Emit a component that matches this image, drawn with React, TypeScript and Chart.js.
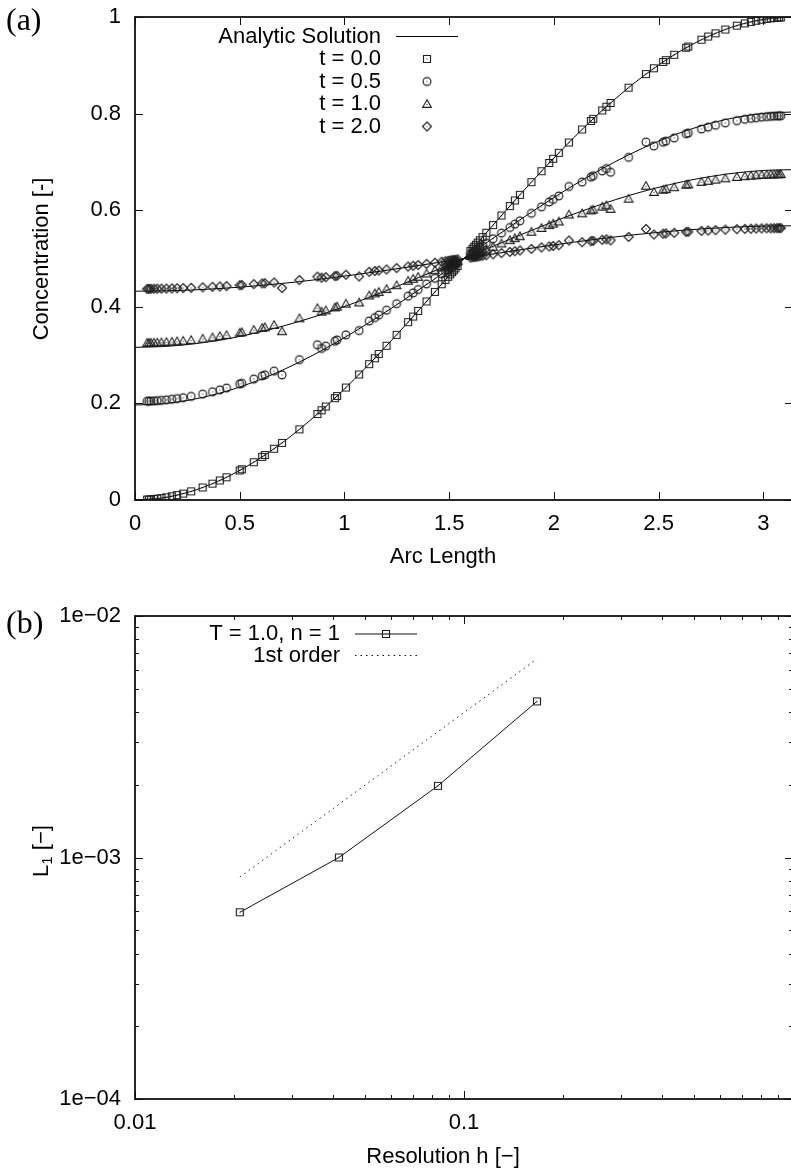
import React, { useEffect, useRef } from "react";
import { Chart, registerables } from "chart.js";

Chart.register(...registerables);

const SANS = '"Liberation Sans", Arial, Helvetica, sans-serif';
const SERIF = '"Liberation Serif", "Times New Roman", serif';

// ---------- (a) concentration along the arc ----------
// arc-length position of every mesh node
const arcS = [
  0.058, 0.066, 0.076, 0.09, 0.106, 0.126, 0.15, 0.176, 0.201, 0.23, 0.268, 0.323,
  0.37, 0.405, 0.437, 0.5, 0.51, 0.567, 0.607, 0.62, 0.664, 0.702, 0.785, 0.871,
  0.891, 0.911, 0.954, 0.965, 1.007, 1.07, 1.118, 1.145, 1.164, 1.201, 1.249, 1.304,
  1.328, 1.352, 1.392, 1.432, 1.464, 1.482, 1.495, 1.505, 1.514, 1.522, 1.53, 1.54,
  1.6016, 1.6116, 1.6196, 1.6276, 1.6366, 1.6466, 1.6596, 1.6776, 1.7096, 1.7496, 1.7896, 1.8136,
  1.8376, 1.8926, 1.9406, 1.9776, 1.9966, 2.0236, 2.0716, 2.1346, 2.1766, 2.1876, 2.2306, 2.2506,
  2.2706, 2.3566, 2.4396, 2.4776, 2.5216, 2.5346, 2.5746, 2.6316, 2.6416, 2.7046, 2.7366, 2.7716,
  2.8186, 2.8736, 2.9116, 2.9406, 2.9656, 2.9916, 3.0156, 3.0356, 3.0516, 3.0656, 3.0756, 3.0836,
];

// computed concentration at the nodes
const concT00 = [
  0.0008, 0.0011, 0.0014, 0.002, 0.0028, 0.004, 0.0056, 0.0077, 0.0101, 0.0132, 0.0179, 0.0259,
  0.0338, 0.0405, 0.047, 0.0612, 0.0636, 0.0782, 0.0893, 0.0931, 0.1062, 0.1182, 0.1463, 0.178,
  0.1857, 0.1935, 0.2108, 0.2153, 0.2328, 0.2599, 0.2813, 0.2935, 0.3022, 0.3193, 0.3419, 0.3682,
  0.3798, 0.3915, 0.4111, 0.4308, 0.4467, 0.4557, 0.4621, 0.4671, 0.4716, 0.4756, 0.4796, 0.4846,
  0.5154, 0.5204, 0.5244, 0.5284, 0.5329, 0.5379, 0.5443, 0.5533, 0.5692, 0.5889, 0.6085, 0.6202,
  0.6318, 0.6581, 0.6807, 0.6978, 0.7065, 0.7187, 0.7401, 0.7672, 0.7847, 0.7892, 0.8065, 0.8143,
  0.822, 0.8537, 0.8818, 0.8938, 0.9069, 0.9107, 0.9218, 0.9364, 0.9388, 0.953, 0.9595, 0.9662,
  0.9741, 0.9821, 0.9868, 0.9899, 0.9923, 0.9944, 0.996, 0.9972, 0.998, 0.9986, 0.9989, 0.9992,
];
const concT05 = [
  0.2045, 0.2046, 0.2049, 0.2052, 0.2057, 0.2063, 0.2073, 0.2086, 0.21, 0.2118, 0.2146, 0.2193,
  0.224, 0.2279, 0.2318, 0.2402, 0.2417, 0.2503, 0.2569, 0.2591, 0.2669, 0.259, 0.2906, 0.3214,
  0.3139, 0.3186, 0.3288, 0.3315, 0.3418, 0.3509, 0.3705, 0.3777, 0.3829, 0.393, 0.4064, 0.422,
  0.4288, 0.4358, 0.4474, 0.459, 0.4684, 0.4738, 0.4776, 0.4805, 0.4832, 0.4856, 0.4879, 0.4909,
  0.5091, 0.5121, 0.5144, 0.5168, 0.5195, 0.5224, 0.5262, 0.5316, 0.541, 0.5526, 0.5642, 0.5712,
  0.578, 0.5936, 0.607, 0.6171, 0.6223, 0.6295, 0.6491, 0.6582, 0.6685, 0.6712, 0.6814, 0.6861,
  0.6786, 0.7094, 0.741, 0.7331, 0.7409, 0.7431, 0.7497, 0.7583, 0.7598, 0.7682, 0.7721, 0.776,
  0.7807, 0.7854, 0.7882, 0.79, 0.7914, 0.7927, 0.7937, 0.7943, 0.7948, 0.7951, 0.7954, 0.7955,
];
const concT10 = [
  0.3253, 0.3254, 0.3255, 0.3257, 0.326, 0.3264, 0.327, 0.3277, 0.3285, 0.3296, 0.3312, 0.3341,
  0.3368, 0.3392, 0.3414, 0.3464, 0.3473, 0.3524, 0.3563, 0.3576, 0.3622, 0.3494, 0.3762, 0.3973,
  0.39, 0.3927, 0.3988, 0.4004, 0.4065, 0.409, 0.4234, 0.4277, 0.4308, 0.4368, 0.4447, 0.4539,
  0.4579, 0.462, 0.4689, 0.4758, 0.4813, 0.4845, 0.4867, 0.4885, 0.4901, 0.4915, 0.4929, 0.4946,
  0.5054, 0.5071, 0.5085, 0.5099, 0.5115, 0.5133, 0.5155, 0.5187, 0.5242, 0.5311, 0.538, 0.5421,
  0.5461, 0.5553, 0.5632, 0.5692, 0.5723, 0.5766, 0.591, 0.5935, 0.5996, 0.6012, 0.6073, 0.61,
  0.6027, 0.6238, 0.6506, 0.6378, 0.6424, 0.6437, 0.6476, 0.6527, 0.6536, 0.6586, 0.6608, 0.6632,
  0.6659, 0.6688, 0.6704, 0.6715, 0.6723, 0.673, 0.6736, 0.674, 0.6743, 0.6745, 0.6746, 0.6747,
];
const concT20 = [
  0.4371, 0.4371, 0.4372, 0.4373, 0.4374, 0.4375, 0.4377, 0.438, 0.4383, 0.4387, 0.4393, 0.4403,
  0.4413, 0.4421, 0.4429, 0.4447, 0.445, 0.4469, 0.4483, 0.4487, 0.4504, 0.4389, 0.4554, 0.4624,
  0.4604, 0.4614, 0.4636, 0.4641, 0.4663, 0.4628, 0.4724, 0.474, 0.4751, 0.4772, 0.4801, 0.4834,
  0.4849, 0.4863, 0.4888, 0.4913, 0.4933, 0.4944, 0.4952, 0.4959, 0.4964, 0.4969, 0.4974, 0.4981,
  0.5019, 0.5026, 0.5031, 0.5036, 0.5041, 0.5048, 0.5056, 0.5067, 0.5087, 0.5112, 0.5137, 0.5151,
  0.5166, 0.5199, 0.5228, 0.5249, 0.526, 0.5276, 0.5372, 0.5337, 0.5359, 0.5364, 0.5386, 0.5396,
  0.5376, 0.5446, 0.5611, 0.5496, 0.5513, 0.5517, 0.5531, 0.555, 0.5553, 0.5571, 0.5579, 0.5587,
  0.5597, 0.5607, 0.5613, 0.5617, 0.562, 0.5623, 0.5625, 0.5626, 0.5627, 0.5628, 0.5629, 0.5629,
];

// analytic solution sampled along the arc
const exactS = [
  0, 0.1309, 0.2618, 0.3927, 0.5236, 0.6545, 0.7854, 0.9163, 1.0472, 1.1781, 1.309, 1.4399, 1.5708,
  1.7017, 1.8326, 1.9635, 2.0944, 2.2253, 2.3562, 2.4871, 2.618, 2.7489, 2.8798, 3.0107, 3.1416,
];
const exactT00 = [
  0, 0.0043, 0.017, 0.0381, 0.067, 0.1033, 0.1464, 0.1956, 0.25, 0.3087, 0.3706, 0.4347, 0.5,
  0.5653, 0.6294, 0.6913, 0.75, 0.8044, 0.8536, 0.8967, 0.933, 0.9619, 0.983, 0.9957, 1,
];
const exactT05 = [
  0.1967, 0.1993, 0.2071, 0.2198, 0.2374, 0.2594, 0.2856, 0.3154, 0.3484, 0.3839, 0.4215, 0.4604, 0.5,
  0.5396, 0.5785, 0.6161, 0.6516, 0.6846, 0.7144, 0.7406, 0.7626, 0.7802, 0.7929, 0.8007, 0.8033,
];
const exactT10 = [
  0.3161, 0.3176, 0.3223, 0.3301, 0.3407, 0.3541, 0.3699, 0.388, 0.408, 0.4296, 0.4524, 0.476, 0.5,
  0.524, 0.5476, 0.5704, 0.592, 0.612, 0.6301, 0.6459, 0.6593, 0.6699, 0.6777, 0.6824, 0.6839,
];
const exactT20 = [
  0.4323, 0.4329, 0.4346, 0.4375, 0.4414, 0.4463, 0.4521, 0.4588, 0.4662, 0.4741, 0.4825, 0.4912, 0.5,
  0.5088, 0.5175, 0.5259, 0.5338, 0.5412, 0.5479, 0.5537, 0.5586, 0.5625, 0.5654, 0.5671, 0.5677,
];

const arcTicks = [0, 0.5, 1, 1.5, 2, 2.5, 3];
const concTicks = [0, 0.2, 0.4, 0.6, 0.8, 1];
const legendLabelsA = ["Analytic Solution", "t = 0.0", "t = 0.5", "t = 1.0", "t = 2.0"];

// ---------- (b) convergence of the L1 error ----------
const resolutionH = [0.02083, 0.04167, 0.08333, 0.16667];
const errorL1 = [5.93e-4, 1.0e-3, 1.98e-3, 4.43e-3];
const firstOrderH = [0.02083, 0.16667];
const firstOrderL1 = [8.3e-4, 6.64e-3];
const hTicks = [0.01, 0.1];
const hTickLabels = ["0.01", "0.1"];
const errTicks = [1e-4, 1e-3, 1e-2];
const errTickLabels = ["1e\u221204", "1e\u221203", "1e\u221202"];
const legendLabelsB = ["T = 1.0, n = 1", "1st order"];

const toXY = (xs: number[], ys: number[]) => xs.map((x, i) => ({ x, y: ys[i] }));

type MarkerKind = "square" | "circle" | "triangle" | "diamond";

// open gnuplot-style point symbols with a centre dot
function makeMarker(kind: MarkerKind): HTMLCanvasElement {
  const c = document.createElement("canvas");
  c.width = 12;
  c.height = 12;
  const g = c.getContext("2d")!;
  g.strokeStyle = "#1e1e1e";
  g.fillStyle = "#1e1e1e";
  g.lineWidth = 1.15;
  g.beginPath();
  if (kind === "square") g.rect(2.5, 2.5, 7, 7);
  else if (kind === "circle") g.arc(6, 6, 3.9, 0, Math.PI * 2);
  else if (kind === "triangle") {
    g.moveTo(6, 1.8);
    g.lineTo(10.3, 9.3);
    g.lineTo(1.7, 9.3);
    g.closePath();
  } else {
    g.moveTo(6, 1.5);
    g.lineTo(10.5, 6);
    g.lineTo(6, 10.5);
    g.lineTo(1.5, 6);
    g.closePath();
  }
  g.stroke();
  g.fillRect(5.5, kind === "triangle" ? 6 : 5.5, 1, 1);
  return c;
}

// box with inward tick marks on all four sides
function framePlugin(xMajor: number[], yMajor: number[], xMinor: number[], yMinor: number[]) {
  return {
    id: "frame",
    afterDatasetsDraw(chart: any) {
      const { ctx, chartArea: a } = chart;
      const sx = chart.scales.x;
      const sy = chart.scales.y;
      ctx.save();
      ctx.strokeStyle = "#111";
      ctx.lineWidth = 1;
      ctx.beginPath();
      const vt = (v: number, len: number) => {
        const p = Math.round(sx.getPixelForValue(v)) + 0.5;
        ctx.moveTo(p, a.bottom);
        ctx.lineTo(p, a.bottom - len);
        ctx.moveTo(p, a.top);
        ctx.lineTo(p, a.top + len);
      };
      const ht = (v: number, len: number) => {
        const p = Math.round(sy.getPixelForValue(v)) + 0.5;
        ctx.moveTo(a.left, p);
        ctx.lineTo(a.left + len, p);
        ctx.moveTo(a.right, p);
        ctx.lineTo(a.right - len, p);
      };
      xMajor.forEach((v) => vt(v, 8));
      xMinor.forEach((v) => vt(v, 4));
      yMajor.forEach((v) => ht(v, 8));
      yMinor.forEach((v) => ht(v, 4));
      ctx.stroke();
      ctx.lineWidth = 1.8;
      ctx.strokeRect(a.left, a.top, a.right - a.left, a.bottom - a.top);
      ctx.restore();
    },
  };
}

function drawRotated(ctx: CanvasRenderingContext2D, cx: number, cy: number, draw: () => void) {
  ctx.save();
  ctx.translate(cx, cy);
  ctx.rotate(-Math.PI / 2);
  draw();
  ctx.restore();
}

const fixedAxis = (size: number, horizontal: boolean) => (s: any) => {
  if (horizontal) s.height = size;
  else s.width = size;
  s.paddingTop = 0;
  s.paddingBottom = 0;
  s.paddingLeft = 0;
  s.paddingRight = 0;
};

const tickFont = { family: SANS, size: 22 };

export default function App() {
  const refA = useRef<HTMLCanvasElement>(null);
  const refB = useRef<HTMLCanvasElement>(null);

  useEffect(() => {
    const sq = makeMarker("square");
    const ci = makeMarker("circle");
    const tr = makeMarker("triangle");
    const di = makeMarker("diamond");

    const markerSet = (label: string, ys: number[], img: HTMLCanvasElement) => ({
      label,
      data: toXY(arcS, ys),
      showLine: false,
      pointStyle: img,
      pointRadius: 4,
      pointHoverRadius: 4,
      order: 1,
    });
    const exactSet = (ys: number[]) => ({
      label: "Analytic Solution",
      data: toXY(exactS, ys),
      showLine: true,
      borderColor: "#000",
      borderWidth: 1,
      pointRadius: 0,
      cubicInterpolationMode: "monotone",
      order: 2,
    });

    const textA = {
      id: "textA",
      afterDraw(chart: any) {
        const ctx: CanvasRenderingContext2D = chart.ctx;
        ctx.save();
        ctx.fillStyle = "#000";
        ctx.font = `22px ${SANS}`;
        ctx.textBaseline = "middle";
        ctx.textAlign = "center";
        ctx.fillText("Arc Length", 443, 557);
        drawRotated(ctx, 42, 259, () => ctx.fillText("Concentration [-]", 0, 0));
        // legend
        const rows = [36.5, 59, 81.5, 104, 126.5];
        const marks = [null, sq, ci, tr, di];
        ctx.textAlign = "right";
        legendLabelsA.forEach((t, i) => {
          ctx.fillText(t, 381, rows[i]);
          const m = marks[i];
          if (m) ctx.drawImage(m, 427 - 6, rows[i] - 6);
        });
        ctx.strokeStyle = "#000";
        ctx.lineWidth = 1;
        ctx.beginPath();
        ctx.moveTo(396, 36.5);
        ctx.lineTo(458, 36.5);
        ctx.stroke();
        ctx.font = `32px ${SERIF}`;
        ctx.textAlign = "left";
        ctx.fillText("(a)", 6, 22);
        ctx.restore();
      },
    };

    const chartA = new Chart(refA.current!, {
      type: "scatter",
      data: {
        datasets: [
          markerSet("t = 0.0", concT00, sq),
          markerSet("t = 0.5", concT05, ci),
          markerSet("t = 1.0", concT10, tr),
          markerSet("t = 2.0", concT20, di),
          exactSet(exactT00),
          exactSet(exactT05),
          exactSet(exactT10),
          exactSet(exactT20),
        ] as any,
      },
      options: {
        animation: false,
        responsive: false,
        devicePixelRatio: 1,
        events: [],
        layout: { padding: { top: 17, left: 0, right: 7, bottom: 0 } },
        plugins: { legend: { display: false }, tooltip: { enabled: false } },
        scales: {
          x: {
            type: "linear",
            min: 0,
            max: Math.PI,
            afterBuildTicks: (s: any) => {
              s.ticks = arcTicks.map((v) => ({ value: v }));
            },
            afterFit: fixedAxis(90, true),
            grid: { display: false, drawTicks: false },
            border: { display: false },
            ticks: {
              padding: 11,
              font: tickFont,
              color: "#000",
              maxRotation: 0,
              autoSkip: false,
              callback: (v: any) => String(v),
            },
          },
          y: {
            type: "linear",
            min: 0,
            max: 1,
            afterBuildTicks: (s: any) => {
              s.ticks = concTicks.map((v) => ({ value: v }));
            },
            afterFit: fixedAxis(135, false),
            grid: { display: false, drawTicks: false },
            border: { display: false },
            ticks: {
              padding: 14,
              font: tickFont,
              color: "#000",
              autoSkip: false,
              callback: (v: any) => String(v),
            },
          },
        },
      } as any,
      plugins: [framePlugin(arcTicks, concTicks, [], []), textA],
    });

    // minor tick positions of the log axes
    const minorH: number[] = [];
    [0.01, 0.1].forEach((d) => {
      for (let m = 2; m <= 9; m++) minorH.push(d * m);
    });
    const minorE: number[] = [];
    [1e-4, 1e-3].forEach((d) => {
      for (let m = 2; m <= 9; m++) minorE.push(d * m);
    });

    const textB = {
      id: "textB",
      afterDraw(chart: any) {
        const ctx: CanvasRenderingContext2D = chart.ctx;
        ctx.save();
        ctx.fillStyle = "#000";
        ctx.font = `22px ${SANS}`;
        ctx.textBaseline = "middle";
        ctx.textAlign = "center";
        ctx.fillText("Resolution h [\u2212]", 443, 567);
        drawRotated(ctx, 42, 261, () => {
          const big = `22px ${SANS}`;
          const small = `15px ${SANS}`;
          ctx.textAlign = "left";
          ctx.font = big;
          const wL = ctx.measureText("L").width;
          const wRest = ctx.measureText(" [\u2212]").width;
          ctx.font = small;
          const w1 = ctx.measureText("1").width;
          let x = -(wL + w1 + wRest) / 2;
          ctx.font = big;
          ctx.fillText("L", x, 0);
          x += wL;
          ctx.font = small;
          ctx.fillText("1", x, 6);
          x += w1;
          ctx.font = big;
          ctx.fillText(" [\u2212]", x, 0);
        });
        // legend
        const rows = [44, 65.5];
        ctx.textAlign = "right";
        legendLabelsB.forEach((t, i) => ctx.fillText(t, 340, rows[i]));
        ctx.strokeStyle = "#111";
        ctx.lineWidth = 1;
        ctx.beginPath();
        ctx.moveTo(355, rows[0]);
        ctx.lineTo(417, rows[0]);
        ctx.stroke();
        ctx.drawImage(sq, 386 - 6, rows[0] - 6);
        ctx.setLineDash([1.5, 4]);
        ctx.beginPath();
        ctx.moveTo(355, rows[1]);
        ctx.lineTo(417, rows[1]);
        ctx.stroke();
        ctx.setLineDash([]);
        ctx.font = `32px ${SERIF}`;
        ctx.textAlign = "left";
        ctx.fillText("(b)", 6, 35);
        ctx.restore();
      },
    };

    const chartB = new Chart(refB.current!, {
      type: "scatter",
      data: {
        datasets: [
          {
            label: legendLabelsB[0],
            data: toXY(resolutionH, errorL1),
            showLine: true,
            borderColor: "#111",
            borderWidth: 1,
            pointStyle: sq,
            pointRadius: 4,
            pointHoverRadius: 4,
          },
          {
            label: legendLabelsB[1],
            data: toXY(firstOrderH, firstOrderL1),
            showLine: true,
            borderColor: "#222",
            borderWidth: 1,
            borderDash: [1.5, 4],
            pointRadius: 0,
          },
        ] as any,
      },
      options: {
        animation: false,
        responsive: false,
        devicePixelRatio: 1,
        events: [],
        layout: { padding: { top: 26, left: 0, right: 7, bottom: 0 } },
        plugins: { legend: { display: false }, tooltip: { enabled: false } },
        scales: {
          x: {
            type: "logarithmic",
            min: 0.01,
            max: 1,
            afterBuildTicks: (s: any) => {
              s.ticks = hTicks.map((v) => ({ value: v }));
            },
            afterFit: fixedAxis(71, true),
            grid: { display: false, drawTicks: false },
            border: { display: false },
            ticks: {
              padding: 11,
              font: tickFont,
              color: "#000",
              maxRotation: 0,
              autoSkip: false,
              callback: (_v: any, i: number) => hTickLabels[i],
            },
          },
          y: {
            type: "logarithmic",
            min: 1e-4,
            max: 1e-2,
            afterBuildTicks: (s: any) => {
              s.ticks = errTicks.map((v) => ({ value: v }));
            },
            afterFit: fixedAxis(135, false),
            grid: { display: false, drawTicks: false },
            border: { display: false },
            ticks: {
              padding: 14,
              font: tickFont,
              color: "#000",
              autoSkip: false,
              callback: (_v: any, i: number) => errTickLabels[i],
            },
          },
        },
      } as any,
      plugins: [framePlugin(hTicks, errTicks, minorH, minorE), textB],
    });

    return () => {
      chartA.destroy();
      chartB.destroy();
    };
  }, []);

  return (
    <div
      style={{
        position: "absolute",
        left: 0,
        top: 0,
        width: 791,
        height: 1170,
        overflow: "hidden",
        background: "#fff",
      }}
    >
      <canvas
        ref={refA}
        width={800}
        height={590}
        style={{ position: "absolute", left: 0, top: 0, width: 800, height: 590 }}
      />
      <canvas
        ref={refB}
        width={800}
        height={580}
        style={{ position: "absolute", left: 0, top: 590, width: 800, height: 580 }}
      />
    </div>
  );
}
